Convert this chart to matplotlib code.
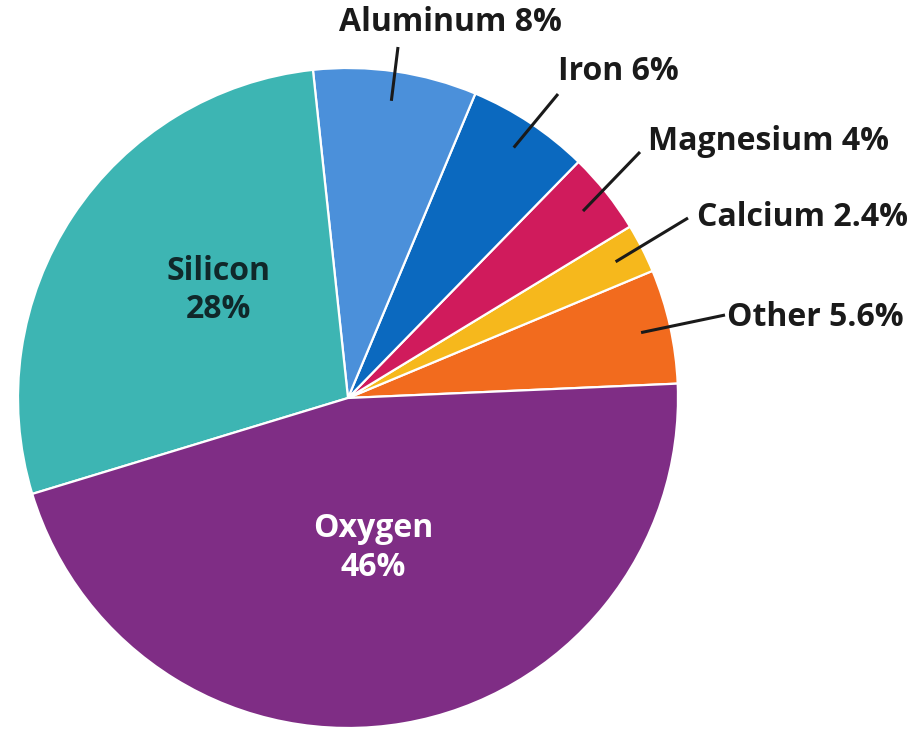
import numpy as np
import matplotlib
matplotlib.use("Agg")
import matplotlib.pyplot as plt

# composition of Earth's crust (% by mass), counter-clockwise from the right
elements = ["Other", "Calcium", "Magnesium", "Iron", "Aluminum", "Silicon", "Oxygen"]
percent = [5.6, 2.4, 4, 6, 8, 28, 46]
pct_text = ["5.6%", "2.4%", "4%", "6%", "8%", "28%", "46%"]
colors = ["#F26B1E", "#F6B81C", "#D01B5C", "#0B69BF", "#4B90DA", "#3DB5B3", "#7F2D85"]

# figure is 922x731 px; pie centre at (348, 398) px, radius 330 px
W, H = 922, 731
CX, CY, R = 348, 398, 330


def px(x, y):
    # pixel position (from top-left) -> data coords
    return (x - CX) / R, (CY - y) / R


fig = plt.figure(figsize=(W / 100, H / 100), dpi=100)
ax = fig.add_axes([0, 0, 1, 1])

start = 2.5
wedges, _ = ax.pie(
    percent,
    colors=colors,
    startangle=start,
    counterclock=True,
    radius=1,
    wedgeprops=dict(edgecolor="white", linewidth=1.6),
)
# pie() resets the limits, so set them afterwards
ax.set_xlim(-CX / R, (W - CX) / R)
ax.set_ylim(-(H - CY) / R, CY / R)
ax.set_aspect("equal")
ax.axis("off")

font = dict(family=["Open Sans", "DejaVu Sans"], fontweight="bold")
fs = 23

# outside labels: leader from the wedge middle to the text
outside = {
    "Other": ((725, 315), (727, 318), "left"),
    "Calcium": ((688, 218), (697, 217), "left"),
    "Magnesium": ((640, 152), (648, 142), "left"),
    "Iron": ((558, 94), (558, 71), "left"),
    "Aluminum": ((398, 47), (450, 23), "center"),
}
for w, name, p in zip(wedges, elements, pct_text):
    if name not in outside:
        continue
    mid = np.deg2rad((w.theta1 + w.theta2) / 2)
    x0, y0 = 0.91 * np.cos(mid), 0.91 * np.sin(mid)
    end, txt, ha = outside[name]
    x1, y1 = px(*end)
    ax.plot([x0, x1], [y0, y1], color="#1a1a1a", lw=2.2, solid_capstyle="butt")
    tx, ty = px(*txt)
    ax.text(tx, ty, f"{name} {p}", ha=ha, va="center", fontsize=fs,
            color="#1a1a1a", **font)

# inside labels
sx, sy = px(218, 291)
ax.text(sx, sy, "Silicon\n28%", ha="center", va="center", fontsize=fs,
        color="#10282a", linespacing=1.2, **font)
ox, oy = px(373, 548)
ax.text(ox, oy, "Oxygen\n46%", ha="center", va="center", fontsize=fs,
        color="white", linespacing=1.25, **font)

fig.savefig("out.png", dpi=100, facecolor="white")
